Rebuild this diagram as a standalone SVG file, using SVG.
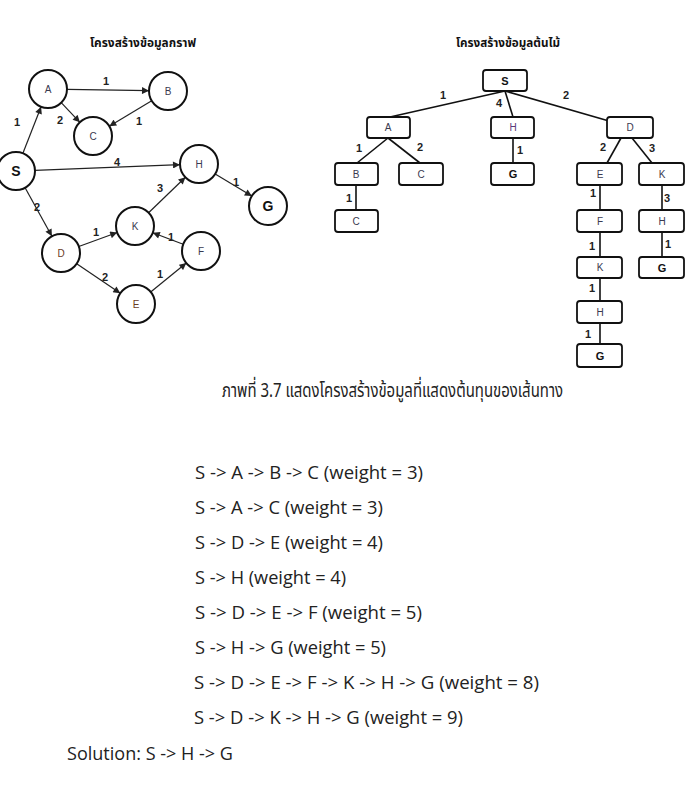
<svg xmlns="http://www.w3.org/2000/svg" width="686" height="812" viewBox="0 0 686 812">
<defs>
<marker id="arr" viewBox="0 0 10 10" refX="10" refY="5" markerWidth="8" markerHeight="7" markerUnits="userSpaceOnUse" orient="auto">
<path d="M0,0 L10,5 L0,10 z" fill="#222"/>
</marker>
<style>
.bg{fill:#fff}
.circ{fill:#fff;stroke:#111;stroke-width:2}
.box{fill:#fff;stroke:#111;stroke-width:1.8}
.edge{stroke:#222;stroke-width:1.2;fill:none;marker-end:url(#arr)}
.tedge{stroke:#111;stroke-width:1.6;fill:none}
.nl{font-family:"Liberation Sans",Arial,sans-serif;font-size:10px;text-anchor:middle;fill:#3a3a50}
.nb{font-family:"Liberation Sans",Arial,sans-serif;font-size:14px;font-weight:bold;text-anchor:middle;fill:#111}
.tb{font-family:"Liberation Sans",Arial,sans-serif;font-size:11px;font-weight:bold;text-anchor:middle;fill:#111}
.el{font-family:"Liberation Sans",Arial,sans-serif;font-size:11px;font-weight:bold;text-anchor:middle;fill:#222}
.ttl{font-family:"Noto Sans","Noto Sans Thai",Tahoma,sans-serif;font-size:12px;font-weight:bold;text-anchor:middle;fill:#111}
.cap{font-family:"Noto Sans","Noto Sans Thai",Tahoma,sans-serif;font-size:20px;fill:#222}
.txt{font-family:"Open Sans","Liberation Sans",sans-serif;font-size:18px;fill:#222}
.brown{fill:#6a3c1e}
.purple{fill:#5a3a7a}
</style>
</defs>
<rect class="bg" x="0" y="0" width="686" height="812"/>

<text class="ttl" x="143" y="47" textLength="106" lengthAdjust="spacingAndGlyphs">โครงสร้างข้อมูลกราฟ</text>
<text class="ttl" x="508" y="47" textLength="104" lengthAdjust="spacingAndGlyphs">โครงสร้างข้อมูลต้นไม้</text>

<g id="graph-connectors">
<line class="edge" x1="22.9" y1="153.3" x2="41.1" y2="106.7"/>
<line class="edge" x1="67" y1="89.3" x2="149" y2="90.7"/>
<line class="edge" x1="61.2" y1="102.7" x2="79.9" y2="122.3"/>
<line class="edge" x1="151.7" y1="100.8" x2="109.3" y2="126.2"/>
<line class="edge" x1="35" y1="170.3" x2="180" y2="164.7"/>
<line class="edge" x1="25.1" y1="187.7" x2="51.9" y2="236.3"/>
<line class="edge" x1="78.8" y1="246.5" x2="117.2" y2="232.5"/>
<line class="edge" x1="76.7" y1="263.7" x2="120.3" y2="293.3"/>
<line class="edge" x1="150.7" y1="292" x2="186.3" y2="263"/>
<line class="edge" x1="183.2" y1="244.3" x2="152.8" y2="232.7"/>
<line class="edge" x1="148.6" y1="212.8" x2="185.4" y2="177.2"/>
<line class="edge" x1="215.2" y1="173.9" x2="251.8" y2="196.1"/>
<text class="el" x="106" y="85">1</text>
<text class="el" x="60" y="124">2</text>
<text class="el" x="139" y="125">1</text>
<text class="el" x="17" y="126">1</text>
<text class="el" x="117" y="166">4</text>
<text class="el" x="160" y="192">3</text>
<text class="el" x="236" y="186">1</text>
<text class="el" x="37" y="211">2</text>
<text class="el" x="96" y="236">1</text>
<text class="el" x="171" y="241">1</text>
<text class="el" x="105" y="281">2</text>
<text class="el" x="160" y="278">1</text>
</g>

<g id="g-S"><circle class="circ" cx="16" cy="171" r="19"/><text class="nb" x="16" y="176">S</text></g>
<g id="g-A"><circle class="circ" cx="48" cy="89" r="19"/><text class="nl" x="48" y="93">A</text></g>
<g id="g-B"><circle class="circ" cx="168" cy="91" r="19"/><text class="nl" x="168" y="95">B</text></g>
<g id="g-C"><circle class="circ" cx="93" cy="136" r="19"/><text class="nl" x="93" y="140">C</text></g>
<g id="g-H"><circle class="circ" cx="199" cy="164" r="19"/><text class="nl" x="199" y="168">H</text></g>
<g id="g-G"><circle class="circ" cx="268" cy="206" r="19"/><text class="nb" x="268" y="211">G</text></g>
<g id="g-K"><circle class="circ" cx="135" cy="226" r="19"/><text class="nl" x="135" y="230">K</text></g>
<g id="g-F"><circle class="circ" cx="201" cy="251" r="19"/><text class="nl" x="201" y="255">F</text></g>
<g id="g-D"><circle class="circ" cx="61" cy="253" r="19"/><text class="nl brown" x="61" y="257">D</text></g>
<g id="g-E"><circle class="circ" cx="136" cy="304" r="19"/><text class="nl brown" x="136" y="308">E</text></g>

<g id="tree-connectors">
<line class="tedge" x1="505" y1="91" x2="390" y2="117"/>
<line class="tedge" x1="505" y1="91" x2="513" y2="117"/>
<line class="tedge" x1="505" y1="91" x2="609" y2="121"/>
<line class="tedge" x1="388" y1="138" x2="357" y2="163"/>
<line class="tedge" x1="388" y1="138" x2="420" y2="163"/>
<line class="tedge" x1="513" y1="138" x2="513" y2="163"/>
<line class="tedge" x1="621" y1="138" x2="607" y2="163"/>
<line class="tedge" x1="632" y1="138" x2="652" y2="163"/>
<line class="tedge" x1="356" y1="185" x2="356" y2="210"/>
<line class="tedge" x1="600" y1="185" x2="600" y2="210"/>
<line class="tedge" x1="600" y1="232" x2="600" y2="257"/>
<line class="tedge" x1="600" y1="278" x2="600" y2="301"/>
<line class="tedge" x1="600" y1="323" x2="600" y2="344"/>
<line class="tedge" x1="662" y1="185" x2="662" y2="210"/>
<line class="tedge" x1="662" y1="232" x2="662" y2="257"/>
<text class="el" x="443" y="99">1</text>
<text class="el" x="499" y="107">4</text>
<text class="el" x="566" y="99">2</text>
<text class="el" x="359" y="152">1</text>
<text class="el" x="420" y="151">2</text>
<text class="el" x="520" y="154">1</text>
<text class="el" x="603" y="151">2</text>
<text class="el" x="652" y="152">3</text>
<text class="el" x="349" y="202">1</text>
<text class="el" x="593" y="197">1</text>
<text class="el" x="592" y="250">1</text>
<text class="el" x="592" y="292">1</text>
<text class="el" x="588" y="338">1</text>
<text class="el" x="667" y="202">3</text>
<text class="el" x="668" y="248">1</text>
</g>

<g id="t-S"><rect class="box" x="483" y="70" width="44" height="21" rx="3"/><text class="tb" x="505" y="85">S</text></g>
<g id="t-A"><rect class="box" x="367" y="117" width="43" height="21" rx="3"/><text class="nl" x="388" y="131">A</text></g>
<g id="t-H"><rect class="box" x="491" y="117" width="43" height="21" rx="3"/><text class="nl purple" x="513" y="131">H</text></g>
<g id="t-D"><rect class="box" x="607" y="117" width="46" height="21" rx="3"/><text class="nl" x="630" y="131">D</text></g>
<g id="t-B"><rect class="box" x="335" y="163" width="43" height="22" rx="3"/><text class="nl" x="356" y="178">B</text></g>
<g id="t-C"><rect class="box" x="399" y="163" width="44" height="22" rx="3"/><text class="nl" x="421" y="178">C</text></g>
<g id="t-G"><rect class="box" x="491" y="163" width="43" height="22" rx="3"/><text class="tb" x="513" y="178">G</text></g>
<g id="t-E"><rect class="box" x="577" y="163" width="45" height="22" rx="3"/><text class="nl" x="600" y="178" fill="#555">E</text></g>
<g id="t-K"><rect class="box" x="639" y="163" width="45" height="22" rx="3"/><text class="nl" x="662" y="178">K</text></g>
<g id="t-C2"><rect class="box" x="335" y="210" width="43" height="22" rx="3"/><text class="nl" x="356" y="225">C</text></g>
<g id="t-F"><rect class="box" x="577" y="210" width="45" height="22" rx="3"/><text class="nl" x="600" y="225">F</text></g>
<g id="t-H2"><rect class="box" x="639" y="210" width="45" height="22" rx="3"/><text class="nl" x="662" y="225">H</text></g>
<g id="t-K2"><rect class="box" x="577" y="257" width="45" height="21" rx="3"/><text class="nl" x="600" y="271">K</text></g>
<g id="t-G2"><rect class="box" x="639" y="257" width="45" height="21" rx="3"/><text class="tb" x="662" y="272">G</text></g>
<g id="t-H3"><rect class="box" x="577" y="301" width="45" height="22" rx="3"/><text class="nl" x="600" y="316">H</text></g>
<g id="t-G3"><rect class="box" x="577" y="344" width="45" height="23" rx="3"/><text class="tb" x="600" y="360">G</text></g>

<text class="cap" x="222" y="397" textLength="341" lengthAdjust="spacingAndGlyphs">ภาพที่ 3.7 แสดงโครงสร้างข้อมูลที่แสดงต้นทุนของเส้นทาง</text>

<g id="paths">
<text class="txt" x="195" y="479" textLength="228" lengthAdjust="spacingAndGlyphs">S -&gt; A -&gt; B -&gt; C (weight = 3)</text>
<text class="txt" x="195" y="514" textLength="188" lengthAdjust="spacingAndGlyphs">S -&gt; A -&gt; C (weight = 3)</text>
<text class="txt" x="195" y="549" textLength="188" lengthAdjust="spacingAndGlyphs">S -&gt; D -&gt; E (weight = 4)</text>
<text class="txt" x="195" y="584" textLength="151" lengthAdjust="spacingAndGlyphs">S -&gt; H (weight = 4)</text>
<text class="txt" x="195" y="619" textLength="227" lengthAdjust="spacingAndGlyphs">S -&gt; D -&gt; E -&gt; F (weight = 5)</text>
<text class="txt" x="195" y="654" textLength="191" lengthAdjust="spacingAndGlyphs">S -&gt; H -&gt; G (weight = 5)</text>
<text class="txt" x="194" y="689" textLength="345" lengthAdjust="spacingAndGlyphs">S -&gt; D -&gt; E -&gt; F -&gt; K -&gt; H -&gt; G (weight = 8)</text>
<text class="txt" x="194" y="724" textLength="269" lengthAdjust="spacingAndGlyphs">S -&gt; D -&gt; K -&gt; H -&gt; G (weight = 9)</text>
<text class="txt" x="67" y="760" textLength="166" lengthAdjust="spacingAndGlyphs">Solution: S -&gt; H -&gt; G</text>
</g>
</svg>
